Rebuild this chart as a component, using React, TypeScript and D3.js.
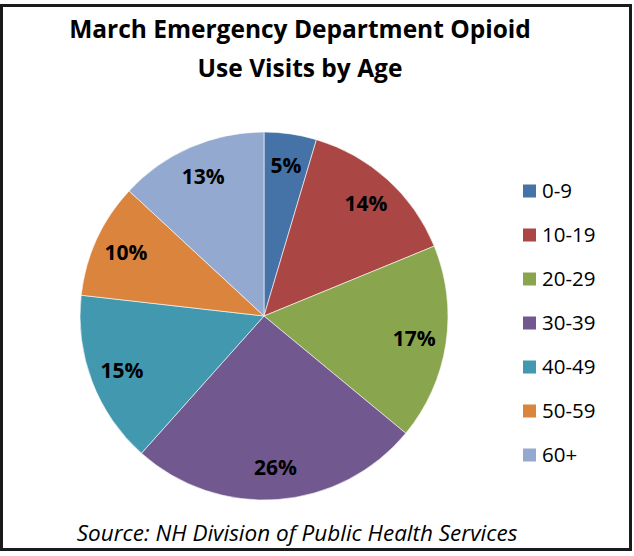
import React from "react";
import * as d3 from "d3";

const categories = ["0-9", "10-19", "20-29", "30-39", "40-49", "50-59", "60+"];
const values = [4.6, 14.2, 17.2, 25.6, 15.2, 10.1, 13.1];
const colors = ["#4572A7", "#AA4643", "#89A54E", "#71588F", "#4198AF", "#DB843D", "#93A9CF"];
const titleLines = ["March Emergency Department Opioid", "Use Visits by Age"];
const source = "Source: NH Division of Public Health Services";

export default function App() {
  const W = 634, H = 556;
  const cx = 264, cy = 316, r = 184;
  const pie = d3.pie<number>().sort(null).value((d) => d)(values);
  const arc = d3.arc<d3.PieArcDatum<number>>().innerRadius(0).outerRadius(r);
  const labelArc = d3.arc<d3.PieArcDatum<number>>().innerRadius(152).outerRadius(152);
  const font = "Open Sans, sans-serif";
  const legendY = d3.scalePoint<string>().domain(categories).range([191, 455]);
  return (
    <svg width={W} height={H} style={{ position: "absolute", left: 0, top: 0 }}>
      <rect x={0} y={0} width={W} height={H} fill="#fff" />
      <rect x={1.5} y={5.5} width={629} height={544} fill="#fff" stroke="#1a1a1a" strokeWidth={3} />
      {titleLines.map((t, i) => (
        <text key={i} x={300} y={38 + i * 39} textAnchor="middle" fontFamily={font} fontWeight={700} fontSize={24.5} fill="#000">
          {t}
        </text>
      ))}
      <g transform={`translate(${cx},${cy})`}>
        {pie.map((p, i) => (
          <path key={i} d={arc(p) || ""} fill={colors[i]} stroke="#fff" strokeWidth={0.6} />
        ))}
        {pie.map((p, i) => {
          const [x, y] = labelArc.centroid(p);
          return (
            <text key={i} x={x} y={y} dy="0.36em" textAnchor="middle" fontFamily={font} fontWeight={700} fontSize={21} fill="#000">
              {Math.round(p.data) + "%"}
            </text>
          );
        })}
      </g>
      {categories.map((c, i) => (
        <g key={c}>
          <rect x={523} y={(legendY(c) as number) - 6.5} width={13} height={13} fill={colors[i]} />
          <text x={542} y={legendY(c)} dy="0.36em" fontFamily={font} fontSize={20.5} fill="#000">
            {c}
          </text>
        </g>
      ))}
      <text x={297} y={541} textAnchor="middle" fontFamily={font} fontStyle="italic" fontSize={22.5} fill="#000">
        {source}
      </text>
    </svg>
  );
}
